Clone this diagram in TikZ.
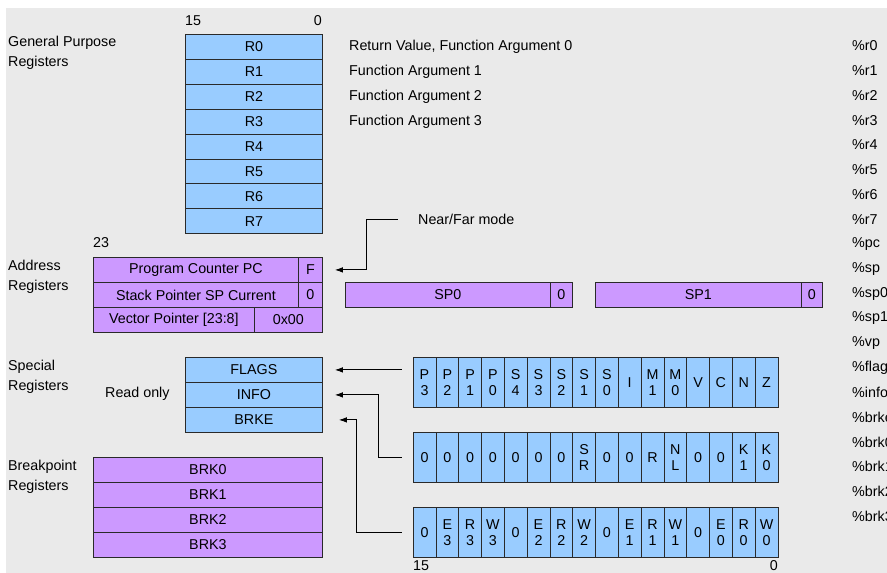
\documentclass[tikz,border=0pt]{standalone}
\usepackage{fontspec}
\setmainfont{Liberation Sans}
\usetikzlibrary{arrows.meta}
\definecolor{bg}{HTML}{EAEAEA}
\definecolor{regblue}{HTML}{99CCFF}
\definecolor{regpurple}{HTML}{CC99FF}
\definecolor{edge}{HTML}{2A2A2A}

\begin{document}
\begin{tikzpicture}[x=1pt,y=-1pt,
  every node/.style={font=\fontsize{14.3}{16}\selectfont, inner sep=0pt},
  reg/.style={draw=edge, line width=0.8pt, anchor=north west, minimum height=25pt, align=center},
  gp/.style={reg, fill=regblue},
  ad/.style={reg, fill=regpurple},
  bit/.style={reg, fill=regblue, minimum width=22.8pt, minimum height=50pt},
  lbl/.style={anchor=west, align=left, font=\fontsize{14.3}{20}\selectfont},
  txt/.style={anchor=west},
  arr/.style={draw=black, line width=0.9pt, -{Latex[length=8pt,width=5.5pt]}}
]
\useasboundingbox (0,0) rectangle (887,573);
\clip (0,0) rectangle (887,573);
\fill[bg] (6,8) rectangle (887,573);

% bit numbering
\node[anchor=west] (gphi) at (185,21) {15};
\node[anchor=east] (gplo) at (322,21) {0};
\node[anchor=west] (adhi) at (93,243) {23};
\node[anchor=west] (bithi) at (413,565.5) {15};
\node[anchor=east] (bitlo) at (778,565.5) {0};

% group captions
\node[lbl] (capgp) at (8,53) {General Purpose\\Registers};
\node[lbl] (capad) at (8,277) {Address\\Registers};
\node[lbl] (capsp) at (8,377) {Special\\Registers};
\node[lbl] (capbk) at (8,477) {Breakpoint\\Registers};
\node[txt] (ro) at (105,394) {Read only};

% general purpose registers
\foreach \i in {0,...,7}
  \node[gp, minimum width=137pt] (r\i) at (185,{34+24.9*\i}) {R\i};

\node[txt] (d0) at (349,46.5) {Return Value, Function Argument 0};
\node[txt] (d1) at (349,71.5) {Function Argument 1};
\node[txt] (d2) at (349,96.5) {Function Argument 2};
\node[txt] (d3) at (349,121.5) {Function Argument 3};

% address registers
\node[ad, minimum width=205pt] (pc) at (93,257) {Program Counter PC};
\node[ad, minimum width=24pt] (pcf) at (298,257) {F};
\node[ad, minimum width=205pt] (sp) at (93,282) {Stack Pointer SP Current};
\node[ad, minimum width=24pt] (spz) at (298,282) {0};
\node[ad, minimum width=161pt] (vp) at (93,307) {Vector Pointer [23:8]};
\node[ad, minimum width=68pt] (vpz) at (254,307) {0x00};
\node[ad, minimum width=205pt] (spa) at (345,282) {SP0};
\node[ad, minimum width=22pt] (spaz) at (550,282) {0};
\node[ad, minimum width=206pt] (spb) at (595,282) {SP1};
\node[ad, minimum width=21pt] (spbz) at (801,282) {0};

\node[txt] (nf) at (418,219) {Near/Far mode};
\draw[arr] ([xshift=-20pt]nf.west) -| ([xshift=44pt]pcf.east) -- ([xshift=12pt]pcf.east);

% special registers
\node[gp, minimum width=137pt] (flags) at (185,357) {FLAGS};
\node[gp, minimum width=137pt] (info) at (185,382) {INFO};
\node[gp, minimum width=137pt] (brke) at (185,407) {BRKE};

% breakpoint registers
\foreach \i in {0,...,3}
  \node[ad, minimum width=229pt] (brk\i) at (93,{457+25*\i}) {BRK\i};

% bit fields
\foreach \t [count=\i] in {{P\\3},{P\\2},{P\\1},{P\\0},{S\\4},{S\\3},{S\\2},{S\\1},{S\\0},I,{M\\1},{M\\0},V,C,N,Z}
  \node[bit] (fl\i) at ({412.7+22.8*(\i-1)},357) {\t};
\foreach \t [count=\i] in {0,0,0,0,0,0,0,{S\\R},0,0,R,{N\\L},0,0,{K\\1},{K\\0}}
  \node[bit] (in\i) at ({412.7+22.8*(\i-1)},432) {\t};
\foreach \t [count=\i] in {0,{E\\3},{R\\3},{W\\3},0,{E\\2},{R\\2},{W\\2},0,{E\\1},{R\\1},{W\\1},0,{E\\0},{R\\0},{W\\0}}
  \node[bit] (bk\i) at ({412.7+22.8*(\i-1)},507) {\t};

\draw[arr] ([xshift=-11pt]fl1.west |- flags.east) -- ([xshift=12pt]flags.east);
\draw[arr] ([xshift=-11pt]in1.west) -| ([xshift=56pt]info.east) -- ([xshift=12pt]info.east);
\draw[arr] ([xshift=-11pt]bk1.west) -| ([xshift=34pt]brke.east) -- ([xshift=16pt]brke.east);

% assembler register names (the column runs off the right edge)
\foreach \t [count=\i from 0] in {r0,r1,r2,r3,r4,r5,r6,r7,pc,sp,sp0,sp1,vp,flags,info,brke,brk0,brk1,brk2,brk3}
  \node[txt] (asm\i) at (852,{46+24.75*\i}) {\%\t};
\end{tikzpicture}
\end{document}
